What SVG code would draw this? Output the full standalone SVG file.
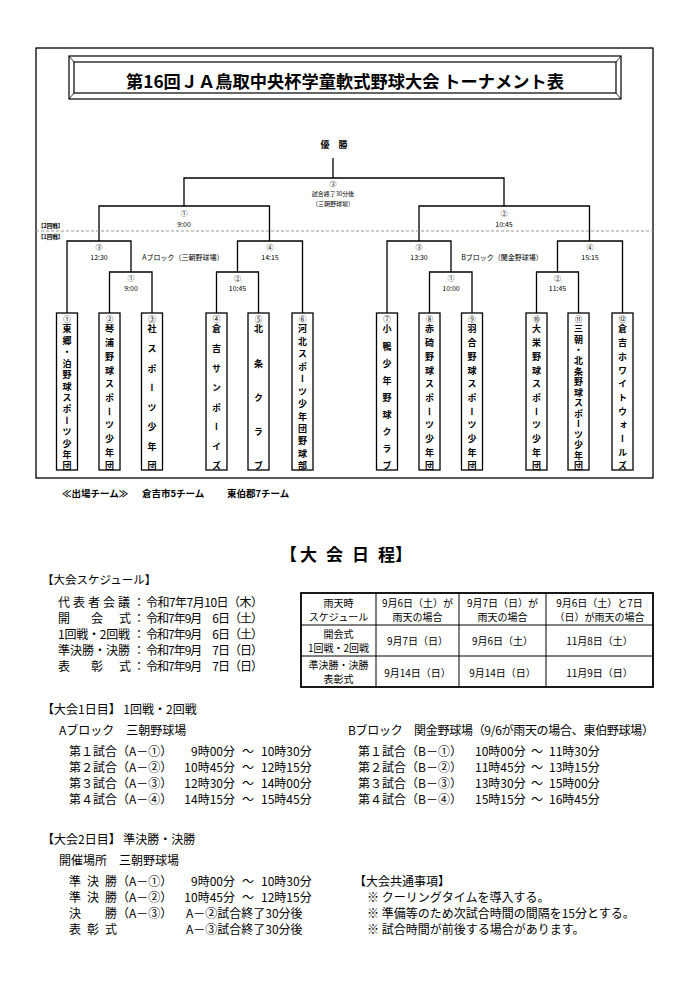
<svg xmlns="http://www.w3.org/2000/svg" width="691" height="984" viewBox="0 0 691 984">
<style>
text{font-family:"Noto Sans CJK JP","Noto Sans",sans-serif;fill:#000}
.ln{stroke:#000;stroke-width:1.3;fill:none}
.box{stroke:#000;stroke-width:1.3;fill:#fff}
.tt{font-size:17px;font-weight:bold;text-anchor:middle;dominant-baseline:central}
.s7{font-size:7px;text-anchor:middle;dominant-baseline:central}
.s6{font-size:6px;text-anchor:middle;dominant-baseline:central}
.s5{font-size:5.5px;font-weight:bold;dominant-baseline:central}
.num{font-size:7.5px;text-anchor:middle;dominant-baseline:central}
.tn{font-size:9px;font-weight:bold;writing-mode:vertical-rl}
.b9{font-size:9.5px;font-weight:bold;dominant-baseline:central}
.f12{font-size:12px;dominant-baseline:central}
.f11{font-size:11.5px;dominant-baseline:central}
.tc{font-size:10px;text-anchor:middle;dominant-baseline:central}
.e{text-anchor:end}
.m{text-anchor:middle}
</style>
<rect width="691" height="984" fill="#fff"/>
<!-- outer frame -->
<rect x="36" y="48" width="617" height="430" class="ln"/>
<!-- title -->
<g id="title">
<rect x="69" y="56" width="552" height="43" fill="none" stroke="#000" stroke-width="1.2"/>
<rect x="74" y="62" width="542" height="31" fill="none" stroke="#000" stroke-width="1.2"/>
<path d="M69,56 L74,62 M621,56 L616,62 M69,99 L74,93 M621,99 L616,93" stroke="#000" stroke-width="0.8" fill="none"/>
<text class="tt" x="345" y="80" textLength="438" lengthAdjust="spacingAndGlyphs">第16回ＪＡ鳥取中央杯学童軟式野球大会 トーナメント表</text>
</g>
<!-- connectors -->
<g id="connectors">
<path class="ln" d="M333,158 V178 M184,206 V178 H504 V206"/>
<path class="ln" d="M99,241 V206 H269.5 V241"/>
<path class="ln" d="M419,241 V206 H589.5 V241"/>
<path class="ln" d="M67,313 V241 H131 V272 M109.5,313 V272 H152 V313 M216.5,313 V272 H258.5 V313 M237.5,272 V241 H302.5 V313"/>
<path class="ln" d="M387,313 V241 H451 V272 M429.5,313 V272 H472 V313 M536.5,313 V272 H578.5 V313 M557.5,272 V241 H622.5 V313"/>
<path d="M36,231 H653" stroke="#999" stroke-width="1" stroke-dasharray="3 2" fill="none"/>
</g>
<!-- round labels -->
<g id="round-labels">
<text class="s5" x="38" y="226">【2回戦】</text>
<text class="s5" x="38" y="237">【1回戦】</text>
</g>
<!-- match labels -->
<g id="final">
<text x="334" y="144" font-size="9" font-weight="bold" text-anchor="middle" dominant-baseline="central">優　勝</text>
<text class="s7" x="333" y="184">③</text>
<text class="s6" x="333" y="193.5">試合終了30分後</text>
<text class="s6" x="333" y="203">（三朝野球場）</text>
</g>
<g id="semi1"><text class="s7" x="184" y="213">①</text><text class="s7" x="184" y="224">9:00</text></g>
<g id="semi2"><text class="s7" x="504" y="213">②</text><text class="s7" x="504" y="224">10:45</text></g>
<g id="a3"><text class="s7" x="99" y="247">③</text><text class="s7" x="99" y="257">12:30</text></g>
<g id="a4"><text class="s7" x="270" y="247">④</text><text class="s7" x="270" y="257">14:15</text></g>
<g id="a1"><text class="s7" x="131" y="278">①</text><text class="s7" x="131" y="288">9:00</text></g>
<g id="a2"><text class="s7" x="237.5" y="278">②</text><text class="s7" x="237.5" y="288">10:45</text></g>
<g id="b3"><text class="s7" x="419" y="247">③</text><text class="s7" x="419" y="257">13:30</text></g>
<g id="b4"><text class="s7" x="590" y="247">④</text><text class="s7" x="590" y="257">15:15</text></g>
<g id="b1"><text class="s7" x="451" y="278">①</text><text class="s7" x="451" y="288">10:00</text></g>
<g id="b2"><text class="s7" x="557.5" y="278">②</text><text class="s7" x="557.5" y="288">11:45</text></g>
<text class="s7" x="183" y="257">Aブロック（三朝野球場）</text>
<text class="s7" x="502" y="257">Bブロック（関金野球場）</text>
<!-- teams -->
<g id="team1"><rect class="box" x="56.5" y="313" width="21" height="157"/><text class="num" x="67" y="318.5">①</text><text class="tn" x="67" y="324.5" letter-spacing="2.42">東郷・泊野球スポーツ少年団</text></g>
<g id="team2"><rect class="box" x="99" y="313" width="21" height="157"/><text class="num" x="109.5" y="318.5">②</text><text class="tn" x="109.5" y="324.5" letter-spacing="4.7">琴浦野球スポーツ少年団</text></g>
<g id="team3"><rect class="box" x="141.5" y="313" width="21" height="157"/><text class="num" x="152" y="318.5">③</text><text class="tn" x="152" y="324.5" letter-spacing="10.57">社スポーツ少年団</text></g>
<g id="team4"><rect class="box" x="206" y="313" width="21" height="157"/><text class="num" x="216.5" y="318.5">④</text><text class="tn" x="216.5" y="324.5" letter-spacing="10.57">倉吉サンポーイズ</text></g>
<g id="team5"><rect class="box" x="248" y="313" width="21" height="157"/><text class="num" x="258.5" y="318.5">⑤</text><text class="tn" x="258.5" y="324.5" letter-spacing="25.25">北条クラブ</text></g>
<g id="team6"><rect class="box" x="292" y="313" width="21" height="157"/><text class="num" x="302.5" y="318.5">⑥</text><text class="tn" x="302.5" y="324.5" letter-spacing="3.45">河北スポーツ少年団野球部</text></g>
<g id="team7"><rect class="box" x="376.5" y="313" width="21" height="157"/><text class="num" x="387" y="318.5">⑦</text><text class="tn" x="387" y="324.5" letter-spacing="8.13">小鴨少年野球クラブ</text></g>
<g id="team8"><rect class="box" x="419" y="313" width="21" height="157"/><text class="num" x="429.5" y="318.5">⑧</text><text class="tn" x="429.5" y="324.5" letter-spacing="4.7">赤碕野球スポーツ少年団</text></g>
<g id="team9"><rect class="box" x="461.5" y="313" width="21" height="157"/><text class="num" x="472" y="318.5">⑨</text><text class="tn" x="472" y="324.5" letter-spacing="4.7">羽合野球スポーツ少年団</text></g>
<g id="team10"><rect class="box" x="526" y="313" width="21" height="157"/><text class="num" x="536.5" y="318.5">⑩</text><text class="tn" x="536.5" y="324.5" letter-spacing="4.7">大栄野球スポーツ少年団</text></g>
<g id="team11"><rect class="box" x="568" y="313" width="21" height="157"/><text class="num" x="578.5" y="318.5">⑪</text><text class="tn" x="578.5" y="324.5" letter-spacing="1.54">三朝・北条野球スポーツ少年団</text></g>
<g id="team12"><rect class="box" x="612" y="313" width="21" height="157"/><text class="num" x="622.5" y="318.5">⑫</text><text class="tn" x="622.5" y="324.5" letter-spacing="4.7">倉吉ホワイトウォールズ</text></g>
<g id="participants">
<text class="b9" x="62" y="493">≪出場チーム≫</text>
<text class="b9" x="142" y="493">倉吉市5チーム</text>
<text class="b9" x="227" y="493">東伯郡7チーム</text>
</g>
<!-- schedule -->
<g id="schedule-heading">
<text x="280 300 313 326 339 352 365 378 395" y="553" font-size="17" font-weight="bold" dominant-baseline="central">【大 会 日 程】</text>
<text class="f11" x="42" y="579">【大会スケジュール】</text>
</g>
<g id="schedule-list">
<text class="f12" x="58" y="601" textLength="72" lengthAdjust="spacing">代表者会議</text>
<text class="f12" x="58 91 119" y="617">開会式</text>
<text class="f12" x="58" y="633" textLength="72" lengthAdjust="spacing">1回戦・2回戦</text>
<text class="f12" x="58" y="649" textLength="72" lengthAdjust="spacing">準決勝・決勝</text>
<text class="f12" x="58 91 119" y="665">表彰式</text>
<text class="f12" x="133" y="601">：</text><text class="f12" x="133" y="617">：</text><text class="f12" x="133" y="633">：</text><text class="f12" x="133" y="649">：</text><text class="f12" x="133" y="665">：</text>
<text class="f12" x="146" y="601" textLength="117" lengthAdjust="spacing">令和7年7月10日（木）</text>
<text class="f12" x="146" y="617" textLength="117" lengthAdjust="spacing">令和7年9月　6日（土）</text>
<text class="f12" x="146" y="633" textLength="117" lengthAdjust="spacing">令和7年9月　6日（土）</text>
<text class="f12" x="146" y="649" textLength="117" lengthAdjust="spacing">令和7年9月　7日（日）</text>
<text class="f12" x="146" y="665" textLength="117" lengthAdjust="spacing">令和7年9月　7日（日）</text>
</g>
<g id="rain-table">
<rect x="301" y="593" width="352" height="94" fill="none" stroke="#000" stroke-width="1.8"/>
<path d="M301,625 H653 M301,656 H653 M376,593 V687 M459,593 V687 M546,593 V687" stroke="#000" stroke-width="1" fill="none"/>
<text class="tc" x="338.5" y="602">雨天時</text><text class="tc" x="338.5" y="616">スケジュール</text>
<text class="tc" x="417.5" y="602">9月6日（土）が</text><text class="tc" x="417.5" y="616">雨天の場合</text>
<text class="tc" x="502.5" y="602">9月7日（日）が</text><text class="tc" x="502.5" y="616">雨天の場合</text>
<text class="tc" x="599.5" y="602">9月6日（土）と7日</text><text class="tc" x="599.5" y="616">（日）が雨天の場合</text>
<text class="tc" x="338.5" y="633.5">開会式</text><text class="tc" x="338.5" y="647.5">1回戦・2回戦</text>
<text class="tc" x="417.5" y="640">9月7日（日）</text>
<text class="tc" x="502.5" y="640">9月6日（土）</text>
<text class="tc" x="599.5" y="640">11月8日（土）</text>
<text class="tc" x="338.5" y="664.5">準決勝・決勝</text><text class="tc" x="338.5" y="678.5">表彰式</text>
<text class="tc" x="417.5" y="672">9月14日（日）</text>
<text class="tc" x="502.5" y="672">9月14日（日）</text>
<text class="tc" x="599.5" y="672">11月9日（日）</text>
</g>
<g id="day1">
<text class="f12" x="42" y="708">【大会1日目】 1回戦・2回戦</text>
<text class="f12" x="59" y="729">Aブロック　三朝野球場</text>
<text class="f12" x="348" y="729" textLength="306" lengthAdjust="spacing">Bブロック　関金野球場（9/6が雨天の場合、東伯野球場）</text>
<text class="f12" x="69" y="750">第１試合（A－①）</text>
<text class="f12" x="69" y="766">第２試合（A－②）</text>
<text class="f12" x="69" y="782">第３試合（A－③）</text>
<text class="f12" x="69" y="798">第４試合（A－④）</text>
<text class="f12 e" x="235" y="750">9時00分</text><text class="f12 e" x="235" y="766">10時45分</text><text class="f12 e" x="235" y="782">12時30分</text><text class="f12 e" x="235" y="798">14時15分</text>
<text class="f12 m" x="248" y="750">～</text><text class="f12 m" x="248" y="766">～</text><text class="f12 m" x="248" y="782">～</text><text class="f12 m" x="248" y="798">～</text>
<text class="f12" x="261" y="750">10時30分</text><text class="f12" x="261" y="766">12時15分</text><text class="f12" x="261" y="782">14時00分</text><text class="f12" x="261" y="798">15時45分</text>
<text class="f12" x="358" y="750">第１試合（B－①）</text>
<text class="f12" x="358" y="766">第２試合（B－②）</text>
<text class="f12" x="358" y="782">第３試合（B－③）</text>
<text class="f12" x="358" y="798">第４試合（B－④）</text>
<text class="f12" x="475" y="750">10時00分</text><text class="f12" x="475" y="766">11時45分</text><text class="f12" x="475" y="782">13時30分</text><text class="f12" x="475" y="798">15時15分</text>
<text class="f12 m" x="537" y="750">～</text><text class="f12 m" x="537" y="766">～</text><text class="f12 m" x="537" y="782">～</text><text class="f12 m" x="537" y="798">～</text>
<text class="f12" x="549" y="750">11時30分</text><text class="f12" x="549" y="766">13時15分</text><text class="f12" x="549" y="782">15時00分</text><text class="f12" x="549" y="798">16時45分</text>
</g>
<g id="day2">
<text class="f12" x="42" y="838">【大会2日目】 準決勝・決勝</text>
<text class="f12" x="59" y="859">開催場所　三朝野球場</text>
<text class="f12" x="69 87 105" y="880">準決勝</text><text class="f12" x="117" y="880">（A－①）</text>
<text class="f12" x="69 87 105" y="896">準決勝</text><text class="f12" x="117" y="896">（A－②）</text>
<text class="f12" x="69 105" y="912">決勝</text><text class="f12" x="117" y="912">（A－③）</text>
<text class="f12" x="69 87 105" y="928">表彰式</text>
<text class="f12 e" x="235" y="880">9時00分</text><text class="f12 m" x="248" y="880">～</text><text class="f12" x="261" y="880">10時30分</text>
<text class="f12 e" x="235" y="896">10時45分</text><text class="f12 m" x="248" y="896">～</text><text class="f12" x="261" y="896">12時15分</text>
<text class="f12" x="186" y="912">A－②試合終了30分後</text>
<text class="f12" x="186" y="928">A－③試合終了30分後</text>
<text class="f12" x="354" y="880">【大会共通事項】</text>
<text class="f12" x="367" y="896">※ クーリングタイムを導入する。</text>
<text class="f12" x="367" y="912">※ 準備等のため次試合時間の間隔を15分とする。</text>
<text class="f12" x="367" y="928">※ 試合時間が前後する場合があります。</text>
</g>
</svg>
